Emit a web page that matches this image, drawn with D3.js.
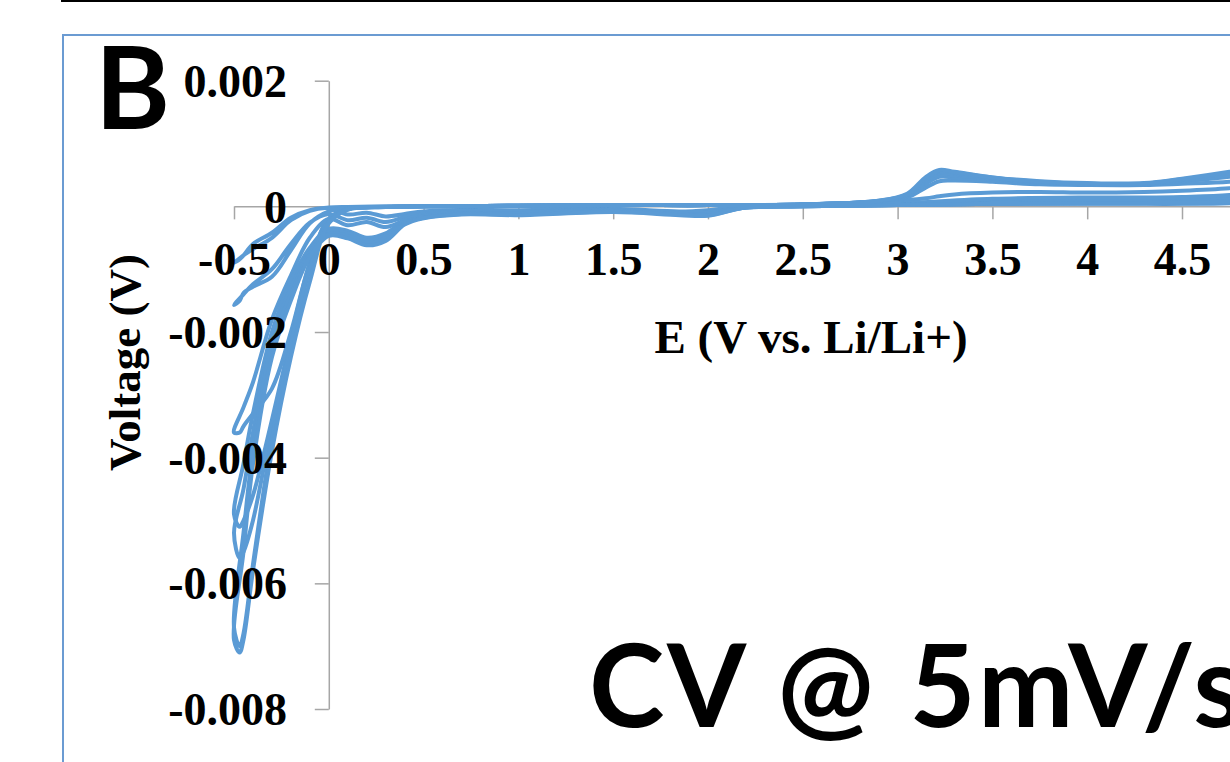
<!DOCTYPE html>
<html>
<head>
<meta charset="utf-8">
<script src="https://cdn.jsdelivr.net/npm/d3@7"></script>
<style>
  html, body { margin: 0; padding: 0; background: #ffffff; }
  svg { display: block; }
  .serif { font-family: "Liberation Serif", "Times New Roman", serif; font-weight: bold; fill: #000; }
  .sans { font-family: Lato, "Open Sans", sans-serif; font-weight: bold; fill: #000; }
</style>
</head>
<body>
<svg id="chart" width="1230" height="762"></svg>
<script>
// Potential grid of the cathodic sweep (5 V down to -0.5 V vs. Li/Li+)
const potentialDown = [5.0, 4.75, 4.5, 4.25, 4.0, 3.5, 3.0, 2.5, 2.2, 2.0, 1.85, 1.5, 1.0, 0.7, 0.5, 0.4, 0.3, 0.2, 0.1, 0.0, -0.1, -0.2, -0.3, -0.4, -0.45, -0.5];
// Potential grid of the anodic sweep (-0.5 V back up to 5 V)
const potentialUp = [-0.5, -0.47, -0.45, -0.4, -0.3, -0.2, -0.1, 0.0, 0.1, 0.3, 0.5, 1.0, 1.5, 2.0, 2.5, 2.9, 3.05, 3.15, 3.22, 3.3, 3.5, 3.75, 4.0, 4.3, 4.5, 4.75, 5.0];

// Cathodic sweep currents, one array per cycle
const down1 = [0.00022, 0.00012, 0.0001, 0.00009, 0.00008, 0.00007, 0.00004, 0.00001, 0.0, -0.00006, -0.00008, -0.00004, -0.00006, -0.00006, -0.00008, -0.00012, -0.00016, -0.0001, -0.00013, -0.00003, -0.00007, -0.00022, -0.0005, -0.00068, -0.00078, -0.0009];
const down2 = [0.00025, 0.00015, 0.00012, 0.0001, 0.0001, 0.00008, 0.00004, 0.00001, -0.00001, -0.0001, -0.0001, -0.00005, -0.00008, -0.00007, -0.0001, -0.00017, -0.00025, -0.00018, -0.00022, -0.00012, -0.00026, -0.0006, -0.001, -0.00124, -0.0014, -0.00157];
const down3 = [0.00028, 0.00018, 0.00015, 0.00014, 0.00014, 0.00012, 0.00005, 0.00001, -0.00001, -0.00011, -0.00011, -0.00006, -0.0001, -0.00009, -0.00012, -0.00022, -0.00033, -0.00025, -0.0003, -0.0002, -0.0005, -0.0011, -0.0018, -0.0028, -0.0032, -0.0036];
const down4 = [0.0001, 0.00005, 0.00004, 0.00004, 0.00004, 0.00004, 0.00002, 0.0, -0.00002, -0.0001, -0.0001, -0.00006, -0.00009, -0.00009, -0.00014, -0.00022, -0.00043, -0.0005, -0.00039, -0.00036, -0.00066, -0.0012, -0.002, -0.0033, -0.0041, -0.0049];
const down5 = [0.00012, 0.00006, 0.00005, 0.00005, 0.00005, 0.00004, 0.00002, 0.0, -0.00002, -0.00012, -0.00012, -0.00007, -0.00011, -0.00011, -0.00016, -0.00025, -0.00047, -0.00054, -0.00043, -0.0004, -0.00072, -0.0013, -0.0021, -0.0036, -0.0045, -0.0052];
const down6 = [0.00014, 0.00007, 0.00005, 0.00005, 0.00005, 0.00004, 0.00002, 0.0, -0.00002, -0.00014, -0.00013, -0.00008, -0.00013, -0.00012, -0.00018, -0.00027, -0.00051, -0.00058, -0.00047, -0.00044, -0.00076, -0.0014, -0.0022, -0.0039, -0.0052, -0.0067];
const down7 = [0.00016, 0.00008, 0.00006, 0.00005, 0.00005, 0.00004, 0.00002, 0.0, -0.00002, -0.00015, -0.00014, -0.00009, -0.00014, -0.00013, -0.00019, -0.00029, -0.00055, -0.00062, -0.00051, -0.00047, -0.0008, -0.0015, -0.0024, -0.0041, -0.0055, -0.0069];

// Anodic sweep currents, one array per cycle
const up1 = [-0.0009, -0.00084, -0.00078, -0.0006, -0.00042, -0.00018, -0.00006, -0.00002, -0.00001, 0.0, 0.0, 0.00001, 0.00002, 0.00002, 0.00003, 0.00007, 0.0001, 0.00013, 0.00016, 0.00019, 0.00022, 0.00023, 0.00022, 0.00023, 0.00025, 0.00029, 0.00036];
const up2 = [-0.00157, -0.0015, -0.00138, -0.00128, -0.00112, -0.0007, -0.00027, -0.00008, -0.00003, -0.00001, 0.0, 0.00001, 0.00002, 0.00002, 0.00003, 0.00008, 0.00014, 0.0003, 0.0004, 0.00041, 0.00039, 0.00035, 0.00034, 0.00034, 0.00036, 0.00039, 0.00048];
const up3 = [-0.0036, -0.0036, -0.0035, -0.0033, -0.0029, -0.002, -0.0009, -0.0002, -0.00004, -0.00001, 0.0, 0.00001, 0.00002, 0.00002, 0.00003, 0.00008, 0.00016, 0.00036, 0.00047, 0.00046, 0.00042, 0.00036, 0.00035, 0.00035, 0.0004, 0.00047, 0.0006];
const up4 = [-0.0049, -0.0051, -0.005, -0.0046, -0.0034, -0.0021, -0.0009, -0.0002, -0.00004, -0.00001, 0.0, 0.00001, 0.00002, 0.00002, 0.00003, 0.00008, 0.00017, 0.0004, 0.0005, 0.00049, 0.00044, 0.00037, 0.00035, 0.00035, 0.00041, 0.00049, 0.00062];
const up5 = [-0.0052, -0.0056, -0.0055, -0.005, -0.0035, -0.0022, -0.001, -0.00022, -0.00004, -0.00001, 0.0, 0.00001, 0.00002, 0.00002, 0.00003, 0.00008, 0.00018, 0.00042, 0.00053, 0.00052, 0.00045, 0.00038, 0.00036, 0.00036, 0.00042, 0.0005, 0.00064];
const up6 = [-0.0067, -0.007, -0.0068, -0.0057, -0.0037, -0.0022, -0.001, -0.00024, -0.00005, -0.00001, 0.0, 0.00001, 0.00002, 0.00002, 0.00003, 0.00009, 0.00019, 0.00045, 0.00056, 0.00054, 0.00046, 0.00039, 0.00036, 0.00036, 0.00043, 0.00053, 0.00066];
const up7 = [-0.0069, -0.0071, -0.0069, -0.0058, -0.0039, -0.0024, -0.0012, -0.00027, -0.00005, -0.00001, 0.0, 0.00001, 0.00002, 0.00002, 0.00003, 0.00009, 0.0002, 0.00047, 0.00058, 0.00055, 0.00046, 0.0004, 0.00037, 0.00037, 0.00044, 0.00055, 0.00068];

// Axis ticks and labels
const xTickValues = [-0.5, 0, 0.5, 1, 1.5, 2, 2.5, 3, 3.5, 4, 4.5];
const xTickLabels = ["-0.5", "0", "0.5", "1", "1.5", "2", "2.5", "3", "3.5", "4", "4.5"];
const yTickValues = [0.002, 0, -0.002, -0.004, -0.006, -0.008];
const yTickLabels = ["0.002", "0", "-0.002", "-0.004", "-0.006", "-0.008"];

const xTitle = "E (V vs. Li/Li+)";
const yTitle = "Voltage (V)";
const panelLetter = "B";
const caption = "CV @ 5mV/s";

const cycles = [
  [down1, up1], [down2, up2], [down3, up3], [down4, up4],
  [down5, up5], [down6, up6], [down7, up7]
];

const svg = d3.select("#chart");

// Page frame: rule at the top and the panel border
svg.append("line")
  .attr("x1", 61).attr("x2", 1230).attr("y1", 1).attr("y2", 1)
  .attr("stroke", "#000").attr("stroke-width", 2.2);
svg.append("rect")
  .attr("x", 63).attr("y", 35).attr("width", 1300).attr("height", 800)
  .attr("fill", "none").attr("stroke", "#6b9bd2").attr("stroke-width", 2);

// x axis runs to 5 V; the page edge cuts it just past 4.75 V
const x = d3.scaleLinear().domain([-0.5, 5]).range([234, 1276.8]);
const y = d3.scaleLinear().domain([-0.008, 0.002]).range([709, 80.7]);

const axisColor = "#a6a6a6";

// Axis lines and tick marks (drawn beneath the curves)
const gx = svg.append("g").attr("transform", `translate(0,${y(0)})`)
  .call(d3.axisBottom(x).tickValues(xTickValues).tickSize(13).tickSizeOuter(0).tickFormat(""));
const gy = svg.append("g").attr("transform", `translate(${x(0)},0)`)
  .call(d3.axisLeft(y).tickValues(yTickValues).tickSize(14).tickSizeOuter(0).tickFormat(""));
[gx, gy].forEach(g => {
  g.select(".domain").attr("stroke", axisColor).attr("stroke-width", 1.5);
  g.selectAll(".tick line").attr("stroke", axisColor).attr("stroke-width", 1.5);
});

// CV cycles
const line = d3.line()
  .x(d => x(d[0]))
  .y(d => y(d[1]))
  .curve(d3.curveCatmullRom.alpha(0.5));

svg.append("g")
  .selectAll("path")
  .data(cycles)
  .join("path")
  .attr("d", ([dn, upc]) => {
    const pts = potentialDown.map((e, i) => [e, dn[i]])
      .concat(potentialUp.slice(1).map((e, i) => [e, upc[i + 1]]));
    return line(pts);
  })
  .attr("fill", "none")
  .attr("stroke", "#5b9bd5")
  .attr("stroke-width", 4)
  .attr("stroke-linejoin", "round")
  .attr("stroke-linecap", "round");

// Tick labels drawn on top of the curves
const labelSize = 46;
const xl = svg.append("g").attr("transform", `translate(0,${y(0)})`)
  .call(d3.axisBottom(x).tickValues(xTickValues).tickSize(0)
    .tickFormat((d, i) => xTickLabels[i]));
xl.select(".domain").remove();
xl.selectAll(".tick text")
  .attr("class", "serif").attr("font-size", labelSize)
  .attr("y", 68.6).attr("dy", 0)
  .attr("font-family", null);

const yl = svg.append("g").attr("transform", `translate(${x(0)},0)`)
  .call(d3.axisLeft(y).tickValues(yTickValues).tickSize(0)
    .tickFormat((d, i) => yTickLabels[i]));
yl.select(".domain").remove();
yl.selectAll(".tick text")
  .attr("class", "serif").attr("font-size", labelSize)
  .attr("x", -41.8).attr("dy", "0.34em")
  .attr("font-family", null);

// Axis titles
svg.append("text").attr("class", "serif")
  .attr("x", 811).attr("y", 353)
  .attr("text-anchor", "middle").attr("font-size", 47)
  .text(xTitle);
svg.append("text").attr("class", "serif")
  .attr("transform", "translate(140,362.5) rotate(-90)")
  .attr("text-anchor", "middle").attr("font-size", 45)
  .text(yTitle);

// Panel letter and caption (the caption runs past the right page edge)
svg.append("text").attr("class", "sans")
  .attr("x", 95).attr("y", 129).attr("font-size", 114)
  .text(panelLetter);
svg.append("text").attr("class", "sans")
  .attr("x", 589).attr("y", 727).attr("font-size", 114)
  .attr("letter-spacing", 2.5).attr("word-spacing", 3)
  .text(caption);
</script>
</body>
</html>
